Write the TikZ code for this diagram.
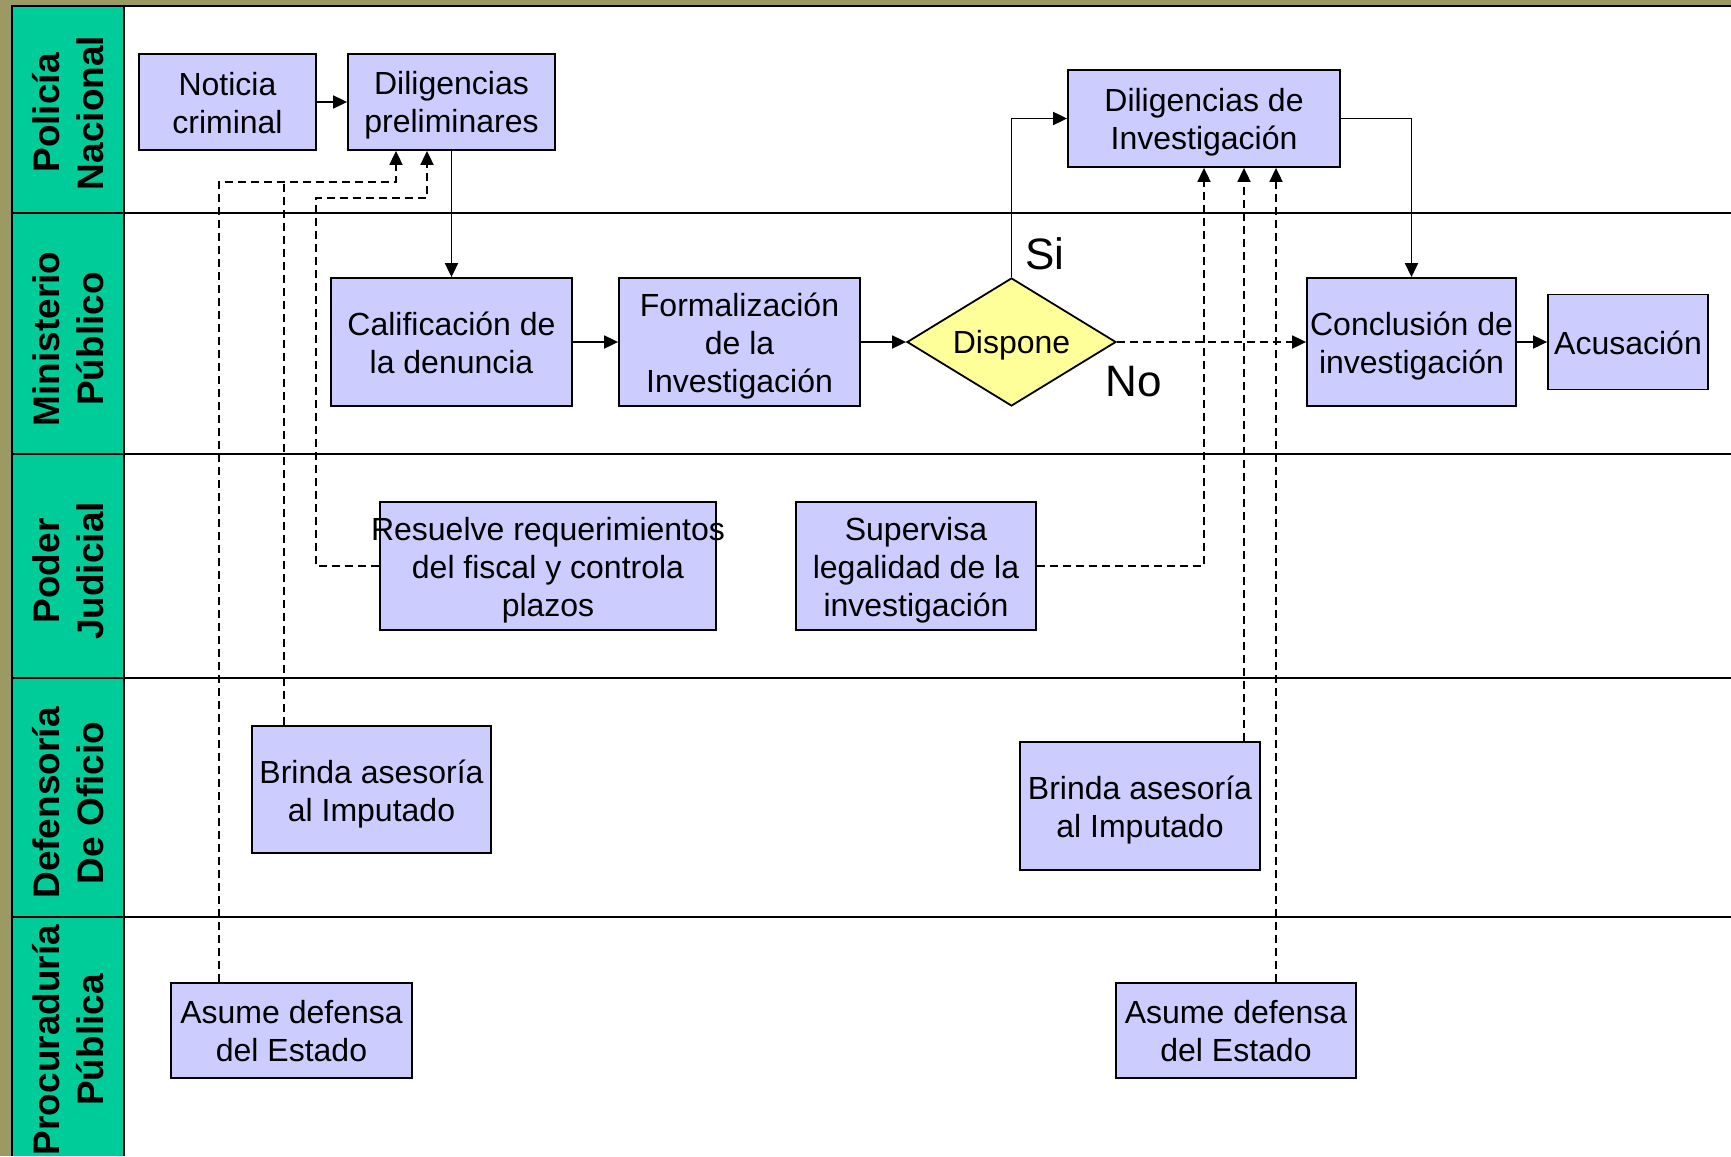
\documentclass[tikz,border=0pt]{standalone}
\usepackage{fontspec}
\setmainfont{Liberation Sans}
\usetikzlibrary{shapes.geometric,arrows.meta}
\definecolor{bgolive}{HTML}{9A9A62}
\definecolor{lanegreen}{HTML}{00CC99}
\definecolor{boxfill}{HTML}{CCCCFF}
\definecolor{decfill}{HTML}{FFFF99}
\begin{document}
\begin{tikzpicture}[x=1pt,y=-1pt,
  box/.style={draw=black, line width=1.8pt, fill=boxfill, inner sep=0pt},
  dec/.style={diamond, aspect=1.63, draw=black, line width=1.8pt, fill=decfill, inner sep=0pt},
  txt/.style={inner sep=0pt, align=center, font=\fontsize{32}{38}\selectfont},
  lanelbl/.style={rotate=90, inner sep=0pt, align=center, font=\fontsize{37}{44}\selectfont\bfseries},
  yesno/.style={inner sep=0pt, font=\fontsize{44}{50}\selectfont},
  arr/.style={line width=1.8pt, -{Triangle[length=14pt,width=13pt]}},
  dsh/.style={line width=1.8pt, dash pattern=on 8pt off 5pt},
  laneline/.style={line width=2.2pt}]
\useasboundingbox (0,0) rectangle (1731,1156);
% background
\fill[bgolive] (0,0) rectangle (1731,1156);
\fill[white] (12,6) rectangle (1731,1156);
\fill[lanegreen] (12,6) rectangle (124,1156);
\draw[laneline] (12,1156) -- (12,6) -- (1731,6);
\draw[laneline] (124,6) -- (124,1156);
\foreach \yy in {213,454,678,917} \draw[laneline] (12,\yy) -- (1731,\yy);
% lane labels
\node[lanelbl] (l1) at (68,113) {Policía\\Nacional};
\node[lanelbl] (l2) at (68,339) {Ministerio\\Público};
\node[lanelbl] (l3) at (68,571) {Poder\\Judicial};
\node[lanelbl] (l4) at (68,803) {Defensoría\\De Oficio};
\node[lanelbl] (l5) at (68,1040) {Procuraduría\\Pública};
% boxes (shapes)
\node[box, minimum width=177pt, minimum height=96pt] (noticia) at (227.5,102) {};
\node[box, minimum width=207pt, minimum height=96pt] (prelim) at (451.5,102) {};
\node[box, minimum width=272pt, minimum height=97pt] (diliginv) at (1204,118.5) {};
\node[box, minimum width=241pt, minimum height=128pt] (calif) at (451.5,342) {};
\node[box, minimum width=241pt, minimum height=128pt] (formal) at (739.5,342) {};
\node[dec, minimum width=209pt, minimum height=128pt] (dispone) at (1011.5,342) {};
\node[box, minimum width=209pt, minimum height=128pt] (concl) at (1411.5,342) {};
\node[box, minimum width=160pt, minimum height=95pt] (acus) at (1628,342) {};
\node[box, minimum width=336pt, minimum height=128pt] (resuelve) at (548,566) {};
\node[box, minimum width=240pt, minimum height=128pt] (supervisa) at (916,566) {};
\node[box, minimum width=239pt, minimum height=127pt] (brinda1) at (371.5,789.5) {};
\node[box, minimum width=240pt, minimum height=128pt] (brinda2) at (1140,806) {};
\node[box, minimum width=241pt, minimum height=95pt] (asume1) at (291.5,1030.5) {};
\node[box, minimum width=240pt, minimum height=95pt] (asume2) at (1236,1030.5) {};
% box texts
\node[txt] (noticia-t) at ([yshift=-1pt]noticia.center) {Noticia\\criminal};
\node[txt] (prelim-t) at ([yshift=-3pt]prelim.center) {Diligencias\\preliminares};
\node[txt] (diliginv-t) at ([yshift=-4pt]diliginv.center) {Diligencias de\\Investigación};
\node[txt] (calif-t) at ([yshift=-1pt]calif.center) {Calificación de\\la denuncia};
\node[txt] (formal-t) at ([yshift=-4pt]formal.center) {Formalización\\de la\\Investigación};
\node[txt] (dispone-t) at ([yshift=-3pt]dispone.center) {Dispone};
\node[txt] (concl-t) at ([yshift=-4pt]concl.center) {Conclusión de\\investigación};
\node[txt] (acus-t) at ([yshift=-1pt]acus.center) {Acusación};
\node[txt] (resuelve-t) at ([yshift=-4pt]resuelve.center) {\makebox[0pt]{Resuelve requerimientos}\\del fiscal y controla\\plazos};
\node[txt] (supervisa-t) at ([yshift=-4pt]supervisa.center) {Supervisa\\legalidad de la\\investigación};
\node[txt] (brinda1-t) at ([yshift=-5pt]brinda1.center) {Brinda asesoría\\al Imputado};
\node[txt] (brinda2-t) at ([yshift=-4pt]brinda2.center) {Brinda asesoría\\al Imputado};
\node[txt] (asume1-t) at ([yshift=-1pt]asume1.center) {Asume defensa\\del Estado};
\node[txt] (asume2-t) at ([yshift=-1pt]asume2.center) {Asume defensa\\del Estado};
% labels
\node[yesno] (si) at (1045,254) {Si};
\node[yesno] (no) at (1134,382) {No};
% solid connectors
\draw[arr] (noticia.east) -- (prelim.west);
\draw[arr] (prelim.south) -- (calif.north);
\draw[arr] (calif.east) -- (formal.west);
\draw[arr] (formal.east) -- (dispone.west);
\draw[arr] (dispone.north) |- (diliginv.west);
\draw[arr] (diliginv.east) -| (concl.north);
\draw[arr] (concl.east) -- (acus.west);
% dashed connectors
\draw[dsh, arr] (dispone.east) -- (concl.west);
\draw[dsh, arr] (219,0 |- asume1.north) -- (219,182) -| (396,0 |- prelim.south);
\draw[dsh] (284,0 |- brinda1.north) -- (284,182);
\draw[dsh, arr] (resuelve.west) -| (316,198) -| (427,0 |- prelim.south);
\draw[dsh, arr] (supervisa.east) -| (diliginv.south);
\draw[dsh, arr] (1244,0 |- brinda2.north) -- (1244,0 |- diliginv.south);
\draw[dsh, arr] (1276,0 |- asume2.north) -- (1276,0 |- diliginv.south);
\end{tikzpicture}
\end{document}
